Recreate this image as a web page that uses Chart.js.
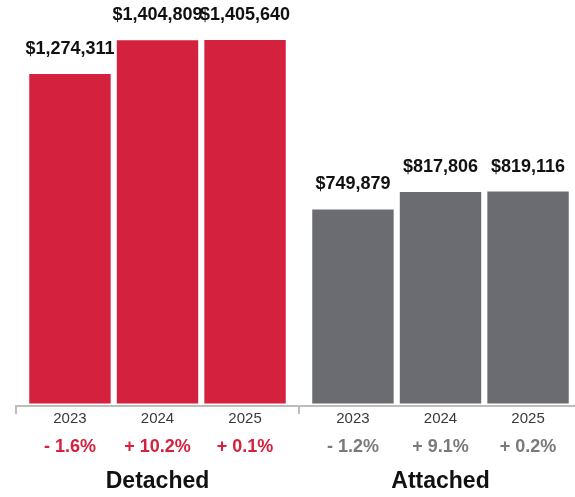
<!DOCTYPE html>
<html>
<head>
<meta charset="utf-8">
<script src="https://cdn.jsdelivr.net/npm/chart.js@4"></script>
<style>
  html, body { margin: 0; padding: 0; background: #fff; overflow: hidden; }
  #wrap { width: 582px; height: 497px; position: relative; }
</style>
</head>
<body>
<div id="wrap"><canvas id="chart"></canvas></div>
<script>
// values
const groups = ["Detached", "Attached"];
const years = ["2023", "2024", "2025"];
const detachedPrices = [1274311, 1404809, 1405640];
const attachedPrices = [749879, 817806, 819116];
const detachedChange = ["- 1.6%", "+ 10.2%", "+ 0.1%"];
const attachedChange = ["- 1.2%", "+ 9.1%", "+ 0.2%"];

const RED = "#d4213d";
const GREY = "#6b6c71";
const GREY_TEXT = "#7a7a7e";
const FONT = "'Liberation Sans', Arial, Helvetica, sans-serif";

// one dataset per year, so each group shows its three years side by side
const datasets = years.map((year, i) => ({
    label: year,
    data: [detachedPrices[i], attachedPrices[i]],
    backgroundColor: [RED, GREY],
    borderWidth: 0,
    barPercentage: 0.93,
    categoryPercentage: 0.928,
}));

const changes = [detachedChange, attachedChange];
const changeColours = [RED, GREY_TEXT];

// draws the price above each bar, and year + change below the axis
const barTextPlugin = {
    id: "barText",
    afterDatasetsDraw(chart) {
        const ctx = chart.ctx;
        const bottom = chart.chartArea.bottom;
        ctx.save();
        ctx.textAlign = "center";
        chart.data.datasets.forEach((ds, i) => {
            const meta = chart.getDatasetMeta(i);
            meta.data.forEach((bar, j) => {
                ctx.fillStyle = "#111";
                ctx.font = "bold 18px " + FONT;
                ctx.textBaseline = "alphabetic";
                ctx.fillText("$" + ds.data[j].toLocaleString("en-US"), bar.x, bar.y - 20);

                ctx.textBaseline = "middle";
                ctx.fillStyle = "#3a3a3a";
                ctx.font = "15px " + FONT;
                ctx.fillText(years[i], bar.x, bottom + 13);

                ctx.fillStyle = changeColours[j];
                ctx.font = "bold 18px " + FONT;
                ctx.fillText(changes[j][i], bar.x, bottom + 41);
            });
        });
        ctx.restore();
    }
};

new Chart(document.getElementById("chart"), {
    type: "bar",
    data: {
        labels: groups,
        datasets: datasets
    },
    options: {
        responsive: true,
        maintainAspectRatio: false,
        animation: false,
        layout: { padding: { left: 16, right: 0, top: 0, bottom: 0 } },
        scales: {
            x: {
                afterFit(scale) { scale.height = 91; },
                grid: {
                    offset: true,
                    drawOnChartArea: false,
                    drawTicks: true,
                    tickLength: 8,
                    color: "#bdbdbd",
                    lineWidth: 2,
                },
                border: { display: true, color: "#bdbdbd", width: 2 },
                ticks: {
                    color: "#111",
                    padding: 54,
                    font: { family: FONT, size: 23, weight: "bold" }
                }
            },
            y: {
                display: false,
                min: -10000,
                max: 1560000,
            }
        },
        plugins: {
            legend: { display: false },
            tooltip: { enabled: false }
        }
    },
    plugins: [barTextPlugin]
});
</script>
</body>
</html>
